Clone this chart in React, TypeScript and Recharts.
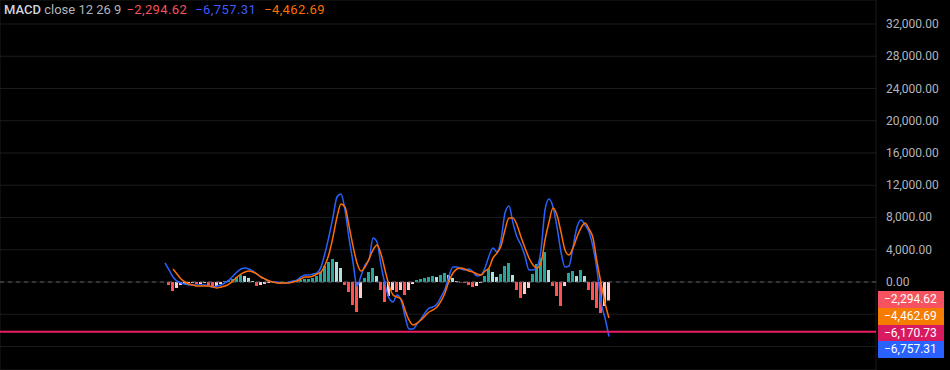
import {
  Bar,
  CartesianGrid,
  Cell,
  ComposedChart,
  Line,
  ReferenceLine,
  XAxis,
  YAxis,
} from "recharts";

const macdLine = [
  2360, 1490, 620, 120, -120, -250, -370, -370, -370, -370,
  -370, -500, -620, -500, -370, -120, 250, 740, 1240, 1610,
  1740, 1610, 1360, 990, 620, 370, 120, 0, 0, -120,
  -120, 0, 120, 250, 620, 870, 870, 990, 1120, 1860,
  3600, 5700, 8060, 10540, 10910, 8930, 5460, 2480, -500, 740,
  2110, 2730, 5460, 4960, 2110, -250, -1980, -2480, -1610, -2230,
  -4220, -5830, -5830, -5210, -4590, -3850, -3230, -3100, -2730, -1860,
  -870, 740, 1860, 1860, 1610, 1490, 1610, 1240, 740, 870,
  1740, 3220, 4220, 3720, 5210, 8560, 9430, 7320, 5580, 4590,
  3220, 1490, 1490, 1860, 3970, 8930, 10290, 9300, 6820, 3720,
  1860, 1980, 4340, 6820, 7690, 7070, 6200, 4340, 1490, -2480,
  -4470, -6757.31,
];

const signalLine = [
  null, null, 1610, 990, 370, 0, -250, -370, -500, -500,
  -500, -500, -620, -740, -620, -500, -250, 120, 620, 990,
  1240, 1360, 1240, 990, 620, 370, 120, 0, -120, -120,
  -120, -120, 0, 120, 370, 620, 620, 740, 990, 1240,
  2110, 3470, 5580, 8060, 9670, 9300, 6950, 4470, 2360, 1360,
  1860, 2850, 3970, 4590, 3470, 1490, -370, -1610, -1860, -2110,
  -3470, -4710, -5330, -5090, -4710, -4220, -3720, -3470, -3100, -2360,
  -1360, 120, 1120, 1610, 1740, 1610, 1360, 1240, 990, 870,
  1360, 1740, 2980, 3600, 4470, 6450, 7940, 7940, 7070, 5580,
  4220, 2980, 2110, 1740, 2360, 5210, 7440, 9180, 8310, 6200,
  3970, 3350, 4220, 5580, 6700, 7320, 6570, 5460, 2480, -120,
  -2600, -4462.69,
];

const histogram = [
  0, -370, -1120, -740, -370, -250, -120, -120, -250, -250,
  -120, -370, -620, -500, -250, 120, 250, 370, 620, 870,
  740, 500, 120, -500, -370, -250, -120, 60, -120, -250,
  -60, -120, 120, 120, 250, 370, 370, 500, 740, 1240,
  1980, 2480, 2850, 2480, 1740, -370, -1240, -2850, -3720, -1980,
  500, 1240, 1740, 740, -990, -2480, -1740, -990, -1240, -990,
  -1610, -990, -250, 250, 370, 500, 620, 740, 620, 870,
  1120, 870, 500, 120, -60, -120, -370, -620, -500, -120,
  740, 1610, 1240, 620, 990, 1980, 2360, 870, -990, -1980,
  -1490, -740, 990, 2230, 2980, 3720, 1490, -500, -1740, -2980,
  -500, 1120, 1360, 740, 1490, 740, -990, -2230, -3220, -3850,
  -2980, -2294.62,
];

const priceTicks = [-8000, -4000, 0, 4000, 8000, 12000, 16000, 20000, 24000, 28000, 32000];
const timeGridTicks = [-29, -15, -1, 13, 27, 41, 55, 69, 83, 97, 111, 125, 139, 153, 167];

const alertLevel = -6170.73;

const lastTags = [
  { label: "−2,294.62", color: "#f7525f" },
  { label: "−4,462.69", color: "#f57c00" },
  { label: "−6,170.73", color: "#d81b60" },
  { label: "−6,757.31", color: "#2962ff" },
];

const data = macdLine.map((macd, i) => ({
  i,
  macd,
  signal: signalLine[i],
  hist: histogram[i],
}));

function histColor(i: number) {
  const v = histogram[i];
  const prev = i > 0 ? histogram[i - 1] : v;
  if (v >= 0) return v >= prev ? "#26a69a" : "#b2dfdb";
  return v < prev ? "#ff5252" : "#ffcdd2";
}

function formatPrice(v: number) {
  return v.toLocaleString("en-US", {
    minimumFractionDigits: 2,
    maximumFractionDigits: 2,
  });
}

type TickProps = {
  x?: number | string;
  y?: number | string;
  payload?: { value?: number };
};

function PriceTick({ x = 0, y = 0, payload }: TickProps) {
  const value = Number(payload?.value ?? 0);
  if (value < 0) return null;
  return (
    <text
      x={Number(x) + 2}
      y={Number(y)}
      dy={4}
      textAnchor="start"
      fill="#b2b5be"
      fontSize={12}
      fontFamily="Roboto, sans-serif"
    >
      {formatPrice(value)}
    </text>
  );
}

export default function App() {
  return (
    <div
      style={{
        position: "fixed",
        left: 0,
        top: 0,
        width: 950,
        height: 370,
        background: "#000000",
        overflow: "hidden",
        fontFamily: "Roboto, sans-serif",
      }}
    >
      <ComposedChart
        width={950}
        height={370}
        data={data}
        margin={{ top: 0, right: 0, bottom: 0, left: 0 }}
        barGap={0}
      >
        <CartesianGrid stroke="#1c1c1c" strokeWidth={1} />
        <XAxis
          dataKey="i"
          type="number"
          domain={[-41.25, 177.75]}
          ticks={timeGridTicks}
          height={0}
          tick={false}
          axisLine={false}
          tickLine={false}
          allowDataOverflow
        />
        <YAxis
          orientation="right"
          type="number"
          domain={[-10915, 34977]}
          ticks={priceTicks}
          width={74}
          tick={PriceTick}
          axisLine={false}
          tickLine={false}
          allowDataOverflow
        />
        <ReferenceLine y={0} stroke="#5d606b" strokeDasharray="4 4" />
        <Bar dataKey="hist" barSize={3} isAnimationActive={false}>
          {data.map((d) => (
            <Cell key={d.i} fill={histColor(d.i)} />
          ))}
        </Bar>
        <Line
          type="monotone"
          dataKey="macd"
          stroke="#2962ff"
          strokeWidth={1.5}
          dot={false}
          activeDot={false}
          isAnimationActive={false}
        />
        <Line
          type="monotone"
          dataKey="signal"
          stroke="#ff6d00"
          strokeWidth={1.5}
          dot={false}
          activeDot={false}
          isAnimationActive={false}
        />
        <ReferenceLine y={alertLevel} stroke="#e91e63" strokeWidth={2} />
      </ComposedChart>

      <div
        style={{
          position: "absolute",
          left: 4,
          top: 2,
          fontSize: 13,
          whiteSpace: "nowrap",
          color: "#b2b5be",
        }}
      >
        <span style={{ color: "#d1d4dc", fontWeight: 500 }}>MACD</span>
        <span> close 12 26 9</span>
        <span style={{ color: "#f7525f", marginLeft: 5, letterSpacing: 0.4 }}>−2,294.62</span>
        <span style={{ color: "#3d5afe", marginLeft: 8, letterSpacing: 0.4 }}>−6,757.31</span>
        <span style={{ color: "#ff6d00", marginLeft: 8, letterSpacing: 0.4 }}>−4,462.69</span>
      </div>

      {lastTags.map((t, k) => (
        <div
          key={t.label}
          style={{
            position: "absolute",
            left: 878,
            top: 291 + k * 16.8,
            width: 66,
            height: 17,
            background: t.color,
            color: "#ffffff",
            fontSize: 12,
            lineHeight: "17px",
            paddingLeft: 6,
            boxSizing: "border-box",
          }}
        >
          {t.label}
        </div>
      ))}
    </div>
  );
}
